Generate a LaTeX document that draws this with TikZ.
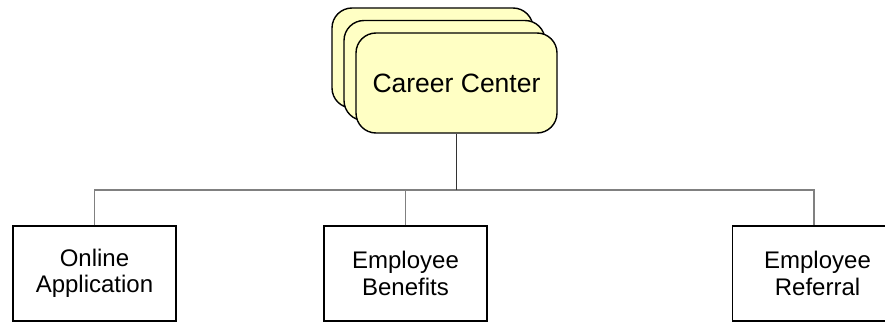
\documentclass[tikz,border=0pt]{standalone}
\usepackage{fontspec}
\setmainfont{Liberation Sans}
\definecolor{cardfill}{HTML}{FFFFC4}
\definecolor{busgray}{HTML}{808080}
\begin{document}
\begin{tikzpicture}[x=1pt,y=-1pt,
  card/.style={draw=black, line width=1.4pt, fill=cardfill, rounded corners=20pt,
    minimum width=201pt, minimum height=100pt, inner sep=0pt},
  leaf/.style={draw=black, line width=1.4pt, fill=white, minimum width=163pt,
    minimum height=95pt, inner sep=0pt, align=center,
    font=\fontsize{24}{26.5}\selectfont},
  busline/.style={draw=busgray, line width=1.3pt},
  stem/.style={draw=black!80, line width=1.1pt}]
\useasboundingbox (0,0) rectangle (885,323);
\node[card] (c3) at (432.5,58) {};
\node[card] (c2) at (444.5,70.5) {};
\node[card, font=\fontsize{26.5}{30}\selectfont] (c1) at (456.5,83) {Career Center};
\coordinate (bus) at (0,190);
\node[leaf] (oa) at (94.5,273.5) {Online\\Application};
\node[leaf] (eb) at (405.5,273.5) {Employee\\Benefits};
\node[leaf, minimum width=170pt] (er) at (817.5,273.5) {Employee\\Referral};
\draw[busline] (oa.north) -- (oa.north |- bus) -- ([xshift=-3.5pt]er.north |- bus) -- ([xshift=-3.5pt]er.north);
\draw[busline] (eb.north) -- (eb.north |- bus);
\draw[stem] (c1.south) -- (c1.south |- bus);
\end{tikzpicture}
\end{document}
